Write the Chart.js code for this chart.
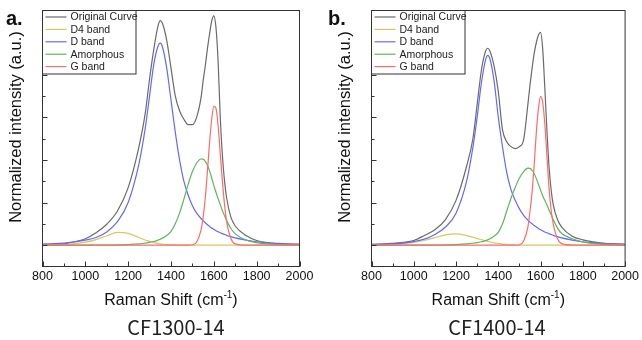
<!DOCTYPE html>
<html><head><meta charset="utf-8">
<script src="https://cdn.jsdelivr.net/npm/chart.js@4"></script>
<style>
html,body{margin:0;padding:0;background:#fff;}
#wrap{position:relative;width:642px;height:340px;overflow:hidden;}
.pane{position:absolute;top:0;width:321px;height:340px;}
canvas{display:block;}
</style></head><body>
<div id="wrap">
<div class="pane" style="left:0"><canvas id="ca" width="321" height="340"></canvas></div>
<div class="pane" style="left:321px"><canvas id="cb" width="321" height="340"></canvas></div>
</div>
<script>
// ---- data ----
const ramanShift = [800,850,900,950,1000,1050,1100,1150,1200,1250,1280,1300,1320,1340,1350,1360,1380,1400,1420,1440,1460,1480,1500,1520,1540,1550,1560,1570,1580,1590,1600,1610,1620,1630,1640,1650,1660,1680,1700,1750,1800,1850,1900,1950,2000];

const seriesNames = ['Original Curve','D4 band','D band','Amorphous','G band'];
const panelTitles = ['CF1300-14','CF1400-14'];
const panelLetters = ['a.','b.'];

// CF1300-14
const originalA = [0.004,0.002,0.006,0.016,0.03,0.058,0.098,0.16,0.27,0.46,0.62,0.78,0.92,1.03,1.053,1.04,0.96,0.83,0.70,0.63,0.59,0.565,0.565,0.60,0.69,0.77,0.84,0.92,0.99,1.05,1.075,1.02,0.86,0.60,0.42,0.30,0.22,0.13,0.09,0.045,0.022,0.012,0.006,0.004,0.003];
const d4A = [0,0.001,0.003,0.007,0.014,0.026,0.044,0.06,0.055,0.036,0.024,0.018,0.012,0.008,0.006,0.005,0.003,0.002,0.001,0,0,0,0,0,0,0,0,0,0,0,0,0,0,0,0,0,0,0,0,0,0,0,0,0,0];
const dA = [0.005,0.007,0.01,0.015,0.024,0.036,0.062,0.11,0.2,0.38,0.55,0.7,0.85,0.935,0.947,0.93,0.83,0.68,0.53,0.40,0.30,0.235,0.185,0.15,0.125,0.115,0.105,0.096,0.088,0.08,0.074,0.068,0.063,0.058,0.054,0.05,0.046,0.04,0.034,0.024,0.016,0.011,0.008,0.006,0.005];
const amorA = [0,0,0,0,0,0,0,0.001,0.003,0.006,0.01,0.013,0.017,0.024,0.028,0.033,0.045,0.065,0.1,0.15,0.215,0.285,0.345,0.385,0.404,0.403,0.393,0.375,0.348,0.315,0.28,0.248,0.218,0.19,0.162,0.138,0.115,0.078,0.053,0.024,0.012,0.006,0.003,0.002,0.001];
const gA = [0,0,0,0,0,0,0,0,0,0,0,0,0,0,0,0,0,0,0,0,0,0,0.002,0.015,0.07,0.13,0.22,0.345,0.48,0.59,0.652,0.642,0.56,0.43,0.3,0.19,0.11,0.03,0.006,0,0,0,0,0,0];

// CF1400-14
const originalB = [0.004,0.005,0.008,0.013,0.022,0.045,0.072,0.12,0.21,0.37,0.5,0.66,0.82,0.91,0.923,0.91,0.84,0.72,0.54,0.485,0.462,0.453,0.462,0.495,0.66,0.75,0.83,0.9,0.95,0.985,0.997,0.92,0.74,0.54,0.37,0.26,0.19,0.12,0.085,0.042,0.025,0.015,0.009,0.006,0.004];
const d4B = [0.001,0.002,0.004,0.008,0.013,0.022,0.035,0.048,0.053,0.045,0.037,0.031,0.026,0.021,0.018,0.016,0.011,0.008,0.005,0.003,0.002,0.001,0,0,0,0,0,0,0,0,0,0,0,0,0,0,0,0,0,0,0,0,0,0,0];
const dB = [0.004,0.005,0.007,0.01,0.017,0.028,0.05,0.085,0.15,0.3,0.46,0.6,0.76,0.87,0.89,0.875,0.77,0.6,0.46,0.34,0.26,0.21,0.17,0.14,0.117,0.108,0.1,0.092,0.085,0.078,0.072,0.067,0.062,0.058,0.054,0.05,0.046,0.04,0.034,0.024,0.016,0.011,0.008,0.006,0.004];
const amorB = [0,0,0,0,0,0,0,0.001,0.003,0.006,0.009,0.012,0.016,0.021,0.025,0.03,0.042,0.06,0.1,0.16,0.22,0.27,0.315,0.345,0.361,0.36,0.35,0.335,0.312,0.285,0.258,0.232,0.21,0.19,0.165,0.142,0.12,0.08,0.055,0.03,0.015,0.008,0.004,0.002,0.001];
const gB = [0,0,0,0,0,0,0,0,0,0,0,0,0,0,0,0,0,0,0,0,0,0,0.002,0.02,0.085,0.16,0.25,0.38,0.53,0.64,0.697,0.67,0.57,0.42,0.27,0.165,0.1,0.03,0.007,0,0,0,0,0,0];

// axis ticks
const xTickLabels = [800,1000,1200,1400,1600,1800,2000];
const xMinorTicks = [900,1100,1300,1500,1700,1900];
const yMajorTicks = [0,0.2,0.4,0.6,0.8,1.0];
const yMinorTicks = [0.1,0.3,0.5,0.7,0.9];
const yRange = [-0.1, 1.1];
const xRange = [800, 2000];

const seriesColors = ['#6a6a6a','#d8c664','#6767ff','#5cb85c','#ff6a6a'];

const FONT = '"Liberation Sans", Arial, sans-serif';

function pts(arr){ return ramanShift.map((x,i)=>({x:x, y:arr[i]})); }

function makePanel(id, p){
  const datasets = p.series.map((arr,i)=>({
    label: seriesNames[i],
    data: pts(arr),
    borderColor: seriesColors[i],
    borderWidth: 1.2,
    pointRadius: 0,
    fill: false,
    cubicInterpolationMode: 'monotone',
    order: 4 - i
  }));
  const deco = {
    id: 'deco'+id,
    afterDraw(chart){
      const ctx = chart.ctx, a = chart.chartArea;
      const xs = chart.scales.x, ys = chart.scales.y;
      ctx.save();
      // inward tick marks
      ctx.strokeStyle = '#333'; ctx.lineWidth = 1;
      ctx.beginPath();
      xTickLabels.forEach(v=>{ const px = Math.round(xs.getPixelForValue(v))+0.5; ctx.moveTo(px,a.bottom); ctx.lineTo(px,a.bottom-5); });
      xMinorTicks.forEach(v=>{ const px = Math.round(xs.getPixelForValue(v))+0.5; ctx.moveTo(px,a.bottom); ctx.lineTo(px,a.bottom-3); });
      yMajorTicks.forEach(v=>{ const py = Math.round(ys.getPixelForValue(v))+0.5; ctx.moveTo(a.left,py); ctx.lineTo(a.left+5,py); });
      yMinorTicks.forEach(v=>{ const py = Math.round(ys.getPixelForValue(v))+0.5; ctx.moveTo(a.left,py); ctx.lineTo(a.left+3,py); });
      ctx.stroke();
      // frame
      ctx.strokeStyle = '#333';
      ctx.strokeRect(a.left, a.top, a.right-a.left, a.bottom-a.top);
      // legend
      const lx = a.left, ly = a.top, lw = 93.5, lh = 63.5;
      ctx.fillStyle = '#fff';
      ctx.fillRect(lx, ly, lw, lh);
      ctx.strokeStyle = '#333';
      ctx.strokeRect(lx, ly, lw, lh);
      ctx.font = '10.5px ' + FONT;
      ctx.textBaseline = 'middle';
      ctx.textAlign = 'left';
      seriesNames.forEach((n,i)=>{
        const yy = ly + 6.5 + i*12.4;
        ctx.strokeStyle = seriesColors[i]; ctx.lineWidth = 1.2;
        ctx.beginPath(); ctx.moveTo(lx+3, yy); ctx.lineTo(lx+24, yy); ctx.stroke();
        ctx.fillStyle = '#222';
        ctx.fillText(n, lx+28, yy+0.5);
      });
      // panel letter
      ctx.fillStyle = '#111';
      ctx.font = 'bold 20px ' + FONT;
      ctx.textBaseline = 'alphabetic';
      ctx.fillText(p.letter, p.letterX, 25);
      // y title
      ctx.save();
      ctx.translate(p.yTitleX, p.yTitleY);
      ctx.rotate(-Math.PI/2);
      ctx.font = p.yTitleSize + 'px ' + FONT;
      ctx.textAlign = 'center';
      ctx.textBaseline = 'middle';
      ctx.fillStyle = '#111';
      ctx.fillText('Normalized intensity (a.u.)', 0, 0);
      ctx.restore();
      // x title with superscript
      const cx = (a.left + a.right)/2;
      const big = '16px ' + FONT, small = '10px ' + FONT;
      ctx.font = big; const w1 = ctx.measureText('Raman Shift (cm').width; const w3 = ctx.measureText(')').width;
      ctx.font = small; const w2 = ctx.measureText('-1').width;
      let sx = cx - (w1+w2+w3)/2;
      ctx.textAlign = 'left'; ctx.textBaseline = 'alphabetic'; ctx.fillStyle = '#111';
      ctx.font = big; ctx.fillText('Raman Shift (cm', sx, 305);
      ctx.font = small; ctx.fillText('-1', sx+w1, 298);
      ctx.font = big; ctx.fillText(')', sx+w1+w2, 305);
      // subtitle
      ctx.font = '20px "Noto Sans CJK KR", "Noto Sans", sans-serif';
      ctx.textAlign = 'center';
      ctx.fillStyle = '#222';
      ctx.fillText(p.title, p.titleX, 335);
      ctx.restore();
    }
  };
  return new Chart(document.getElementById(id), {
    type: 'line',
    data: { datasets: datasets },
    options: {
      responsive: false,
      animation: false,
      devicePixelRatio: 1,
      layout: { padding: { left: 0, top: 10.5, right: p.rightPad, bottom: 0 } },
      plugins: { legend: { display: false }, tooltip: { enabled: false } },
      scales: {
        x: {
          type: 'linear', min: xRange[0], max: xRange[1],
          grid: { display: false, drawTicks: false },
          border: { display: false },
          afterBuildTicks: s => { s.ticks = xTickLabels.map(v=>({value:v})); },
          afterFit: s => { s.height = 73.5; },
          ticks: { padding: 3, color: '#111', font: { family: FONT, size: 12.5 }, maxRotation: 0, autoSkip: false,
                   callback: v => String(v) }
        },
        y: {
          type: 'linear', min: yRange[0], max: yRange[1],
          grid: { display: false, drawTicks: false },
          border: { display: false },
          ticks: { display: false },
          afterFit: s => { s.width = p.leftW; }
        }
      }
    },
    plugins: [deco]
  });
}

makePanel('ca', { series: [originalA, d4A, dA, amorA, gA], letter: panelLetters[0], letterX: 6, title: panelTitles[0], titleX: 176, leftW: 42.5, rightPad: 21.5, yTitleX: 16, yTitleY: 127, yTitleSize: 16.5 });
makePanel('cb', { series: [originalB, d4B, dB, amorB, gB], letter: panelLetters[1], letterX: 7, title: panelTitles[1], titleX: 176, leftW: 50.5, rightPad: 14.5, yTitleX: 24, yTitleY: 127, yTitleSize: 16.5 });
</script>
</body></html>
